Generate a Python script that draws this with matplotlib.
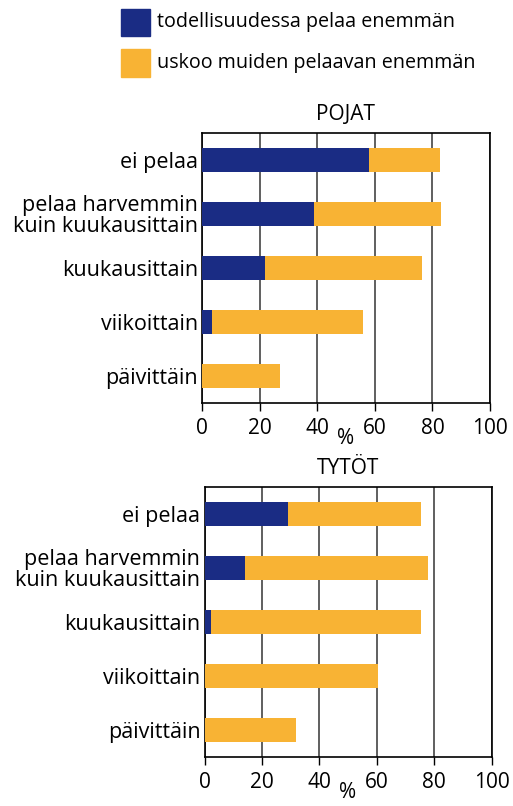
import numpy as np
import matplotlib
matplotlib.use("Agg")
import matplotlib.pyplot as plt
from matplotlib.patches import Rectangle

plt.rcParams['font.family'] = ['Open Sans', 'DejaVu Sans']

categories = ['ei pelaa', 'pelaa harvemmin\nkuin kuukausittain', 'kuukausittain',
              'viikoittain', 'päivittäin']
series_names = ['todellisuudessa pelaa enemmän', 'uskoo muiden pelaavan enemmän']

# total bar length = pelaa enemmän + uskoo muiden pelaavan enemmän
pojat_real = [58, 39, 22, 3.6, 0]
pojat_total = [82.5, 83, 76.5, 56, 27]
tytot_real = [29, 14, 2.4, 0.3, 0]
tytot_total = [75.5, 78, 75.5, 60.5, 32]

blue = '#1a2c84'
orange = '#f8b334'
fs = 15

fig = plt.figure(figsize=(5.13, 8.06), dpi=100)
W, H = 513, 806


def panel(rect, title, real, total):
    ax = fig.add_axes(rect)
    y = np.arange(len(categories))
    real = np.array(real)
    total = np.array(total)
    ax.barh(y, real, height=0.44, color=blue, zorder=3)
    ax.barh(y, total - real, left=real, height=0.44, color=orange, zorder=3)
    ax.set_xlim(0, 100)
    ax.set_ylim(4.5, -0.5)
    ax.set_xticks([0, 20, 40, 60, 80, 100])
    ax.set_yticks(y)
    ax.set_yticklabels(categories, fontsize=15.5, linespacing=1.0)
    ax.tick_params(axis='y', length=0, pad=3)
    ax.tick_params(axis='x', length=6, width=1, labelsize=fs, pad=5)
    ax.grid(axis='x', color='#444444', linewidth=1.2, zorder=0)
    for s in ax.spines.values():
        s.set_linewidth(1.2)
    ax.set_title(title, fontsize=fs, pad=9)
    ax.set_xlabel('%', fontsize=fs, labelpad=-8)
    return ax


panel([202 / W, 1 - 403 / H, 288 / W, 270 / H], 'POJAT', pojat_real, pojat_total)
panel([204.5 / W, 1 - 757 / H, 287 / W, 270 / H], 'TYTÖT', tytot_real, tytot_total)

# legend
for i, (name, col) in enumerate(zip(series_names, [blue, orange])):
    y0 = 8.5 + i * 40.5
    fig.patches.append(Rectangle((121 / W, 1 - (y0 + 27.5) / H), 29 / W, 27.5 / H,
                                 color=col, transform=fig.transFigure))
    fig.text(157 / W, 1 - (y0 + 14) / H, name, fontsize=14.2, va='center', ha='left')

fig.savefig('out.png', dpi=100)
